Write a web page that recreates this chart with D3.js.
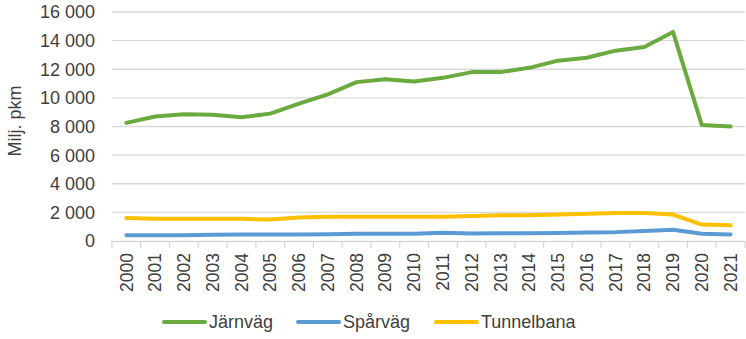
<!DOCTYPE html>
<html><head><meta charset="utf-8">
<script src="https://cdn.jsdelivr.net/npm/d3@7"></script>
<style>body{margin:0;background:#fff}svg{display:block;font-family:"Liberation Sans",Arial,sans-serif}</style>
</head><body><svg id="c" width="746" height="339"></svg>
<script>
const years = ["2000","2001","2002","2003","2004","2005","2006","2007","2008","2009","2010","2011","2012","2013","2014","2015","2016","2017","2018","2019","2020","2021"];
const jarnvag = [8250,8700,8850,8820,8650,8900,9600,10250,11100,11300,11150,11400,11800,11800,12100,12600,12800,13300,13550,14600,8100,8000];
const sparvag = [400,400,400,430,450,450,450,480,500,500,500,580,530,550,550,560,600,620,700,780,500,450];
const tunnelbana = [1600,1550,1550,1550,1550,1500,1650,1700,1700,1700,1700,1700,1750,1800,1800,1850,1900,1950,1950,1850,1150,1100];
const yTicks = [0,2000,4000,6000,8000,10000,12000,14000,16000];
const seriesNames = ["Järnväg","Spårväg","Tunnelbana"];
const colors = ["#6aaa3f","#5b9bd5","#ffc000"];

const svg = d3.select("#c");
const L=112, R=745, T=12, B=241;
const x = d3.scaleBand().domain(years).range([L,R]);
const y = d3.scaleLinear().domain([0,16000]).range([B,T]);
const fmt = v => d3.format(",")(v).replace(/,/g," ");

svg.append("g").selectAll("line").data(yTicks.filter(d=>d>0)).join("line")
  .attr("x1",L).attr("x2",R).attr("y1",d=>y(d)).attr("y2",d=>y(d))
  .attr("stroke","#d9d9d9").attr("stroke-width",1.3);

svg.append("g").selectAll("text").data(yTicks).join("text")
  .attr("x",95).attr("y",d=>y(d)).attr("dy","0.36em").attr("text-anchor","end")
  .attr("font-size",18).attr("fill","#404040").text(fmt);

// x axis
const xa = svg.append("g").attr("transform",`translate(0,${B})`)
  .call(d3.axisBottom(x).tickSize(0).tickFormat(""));
xa.select(".domain").attr("stroke","#d9d9d9").attr("stroke-width",1.3);
xa.selectAll(".tick").remove();
const bounds = years.map(d=>x(d)).concat([R]);
svg.append("g").selectAll("line").data(bounds).join("line")
  .attr("x1",d=>d).attr("x2",d=>d).attr("y1",B).attr("y2",B+7)
  .attr("stroke","#d9d9d9").attr("stroke-width",1.3);
svg.append("g").selectAll("text").data(years).join("text")
  .attr("transform",d=>`translate(${x(d)+x.bandwidth()/2},253) rotate(-90)`)
  .attr("text-anchor","end").attr("dy","0.35em").attr("font-size",17.5).attr("fill","#404040").text(d=>d);

svg.append("text").attr("transform","translate(15,121) rotate(-90)")
  .attr("text-anchor","middle").attr("dy","0.35em").attr("font-size",18).attr("fill","#404040").text("Milj. pkm");

const line = d3.line().x((d,i)=>x(years[i])+x.bandwidth()/2).y(d=>y(d));
[jarnvag,sparvag,tunnelbana].forEach((s,i)=>{
  svg.append("path").datum(s).attr("d",line).attr("fill","none")
    .attr("stroke",colors[i]).attr("stroke-width",4).attr("stroke-linejoin","round").attr("stroke-linecap","round");
});

const legX = [164,298,436];
seriesNames.forEach((n,i)=>{
  svg.append("line").attr("x1",legX[i]).attr("x2",legX[i]+41).attr("y1",322).attr("y2",322)
    .attr("stroke",colors[i]).attr("stroke-width",4).attr("stroke-linecap","round");
  svg.append("text").attr("x",legX[i]+45).attr("y",322).attr("dy","0.35em")
    .attr("font-size",18).attr("fill","#404040").text(n);
});
</script></body></html>
